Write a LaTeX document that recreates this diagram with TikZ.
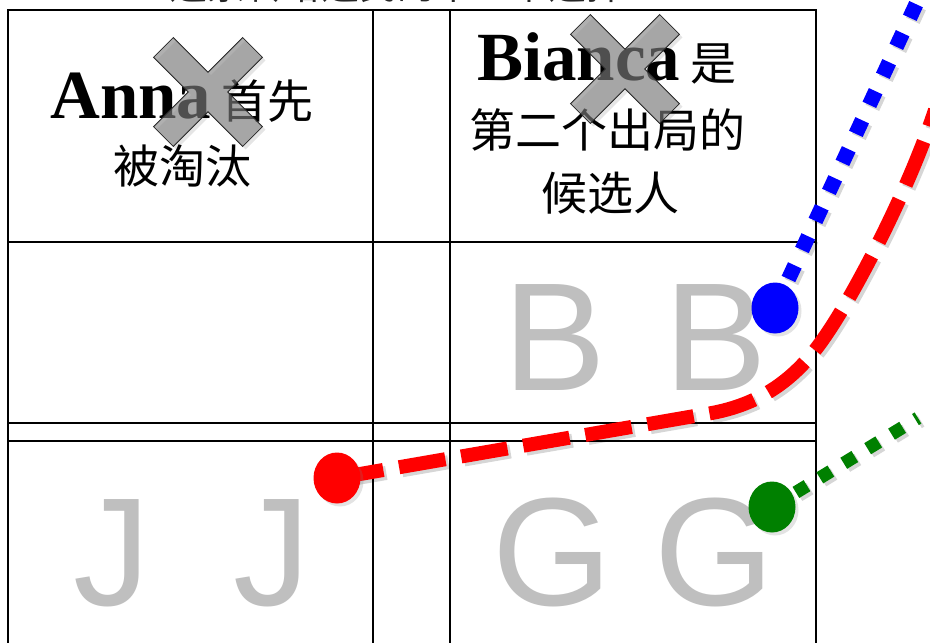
\documentclass[tikz,border=0pt]{standalone}
\usepackage{fontspec}
\setmainfont{Liberation Serif}
\newfontfamily\cjk{Noto Sans CJK SC}
\newfontfamily\lsans{Liberation Sans}
\usetikzlibrary{shapes.geometric,shadows}
\begin{document}
\begin{tikzpicture}[x=1pt,y=-1pt,
  gridline/.style={draw=black, line width=2pt},
  ghost/.style={inner sep=0pt, anchor=base, text=black!25, font=\lsans\fontsize{154}{154}\selectfont},
  label/.style={inner sep=0pt, anchor=base, font=\cjk\fontsize{46}{46}\selectfont},
  dot/.style={ellipse, inner sep=0pt, minimum width=47pt, minimum height=51pt,
    drop shadow={opacity=0.22, shadow xshift=3pt, shadow yshift=-3pt}},
  redline/.style={draw=red, line width=14pt, dash pattern=on 47pt off 16pt,
    preaction={draw=black, opacity=0.16, line width=14pt, dash pattern=on 47pt off 16pt,
      transform canvas={shift={(3pt,-3pt)}}}},
  blueline/.style={draw=blue, line width=15pt, dash pattern=on 15pt off 17pt,
    preaction={draw=black, opacity=0.16, line width=15pt, dash pattern=on 15pt off 17pt,
      transform canvas={shift={(3pt,-3pt)}}}},
  greenline/.style={draw=green!50!black, line width=13pt, dash pattern=on 13pt off 15pt,
    preaction={draw=black, opacity=0.16, line width=13pt, dash pattern=on 13pt off 15pt,
      transform canvas={shift={(3pt,-3pt)}}}},
  xcross/.pic={
    \begin{scope}[rotate=45]
      \path[fill=black, opacity=0.10, transform canvas={shift={(3pt,-3pt)}}]
        (-14,63) -- (14,63) -- (14,14) -- (63,14) -- (63,-14) -- (14,-14) -- (14,-63)
        -- (-14,-63) -- (-14,-14) -- (-63,-14) -- (-63,14) -- (-14,14) -- cycle;
      \path[fill=black!50, fill opacity=0.62, draw=black!85, line width=0.8pt]
        (-14,63) -- (14,63) -- (14,14) -- (63,14) -- (63,-14) -- (14,-14) -- (14,-63)
        -- (-14,-63) -- (-14,-14) -- (-63,-14) -- (-63,14) -- (-14,14) -- cycle;
    \end{scope}
  }]
\useasboundingbox (0,0) rectangle (930,643);
\fill[white] (0,0) rectangle (930,643);

% cut-off caption at the top
\node[inner sep=0pt, anchor=base, text=black!85, font=\cjk\fontsize{38}{38}\selectfont] (caption) at (397,-1) {选票转给选民的下一个选择};

% grid
\draw[gridline] (8,10) -- (816,10);
\draw[gridline] (8,242) -- (816,242);
\draw[gridline] (8,423) -- (816,423);
\draw[gridline] (8,441) -- (816,441);
\draw[gridline] (8,9) -- (8,650);
\draw[gridline] (373,9) -- (373,650);
\draw[gridline] (450,9) -- (450,650);
\draw[gridline] (816,9) -- (816,650);

% ghost letters
\node[ghost] (b1) at (555,390) {B};
\node[ghost] (b2) at (716,390) {B};
\node[ghost] (j1) at (112,605) {J};
\node[ghost] (j2) at (272,605) {J};
\node[ghost] (g1) at (552,605) {G};
\node[ghost] (g2) at (714,605) {G};

% labels
\node[label] (anna1) at (182,118) {{\rmfamily\bfseries\fontsize{69}{69}\selectfont Anna} 首先};
\node[label] (anna2) at (182,183) {被淘汰};
\node[label] (bianca1) at (607,80) {{\rmfamily\bfseries\fontsize{69}{69}\selectfont Bianca} 是};
\node[label] (bianca2) at (607,147) {第二个出局的};
\node[label] (bianca3) at (610,210) {候选人};

% crosses
\pic (xanna) at (208,92) {xcross};
\pic (xbianca) at (625,69) {xcross};

% ballot paths
\coordinate (rc) at (337,478);
\coordinate (bc) at (775,308);
\coordinate (gc) at (772,507);
\coordinate (rend) at (935,110);
\coordinate (bend) at (925,-15);
\coordinate (gend) at (918,418);

\path[blueline] (bc) -- (bend);
\path[greenline] (gc) -- (gend);
\path[redline] (rc) -- (712,413) .. controls (765,403) and (800,375) .. (828,332)
  .. controls (850,300) and (905,200) .. (rend);

\node[dot, fill=red] (rdot) at (rc) {};
\node[dot, fill=blue] (bdot) at (bc) {};
\node[dot, fill=green!50!black] (gdot) at (gc) {};
\end{tikzpicture}
\end{document}
